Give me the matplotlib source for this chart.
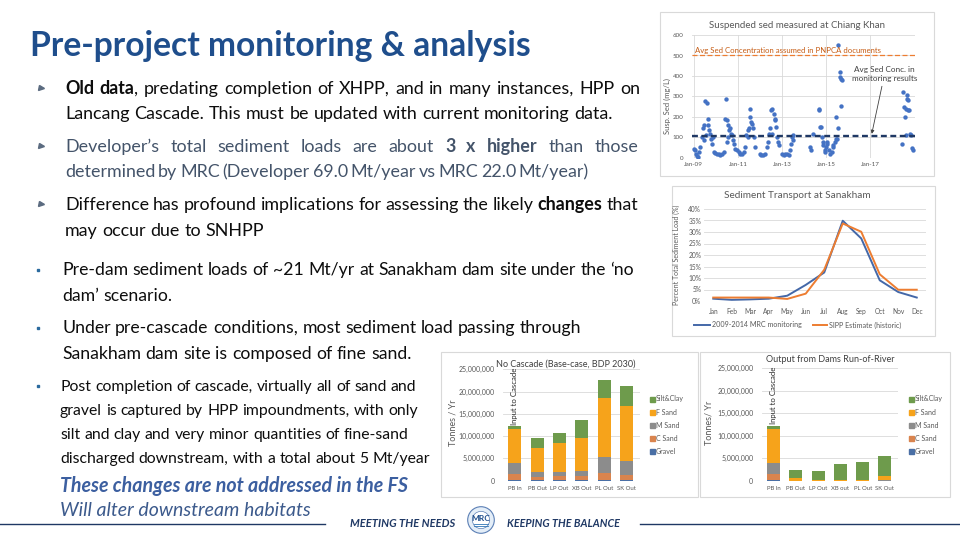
import matplotlib
matplotlib.use('Agg')
import matplotlib.pyplot as plt
from matplotlib.lines import Line2D
from matplotlib.patches import Rectangle, Circle
from matplotlib.ticker import FuncFormatter

W, H = 960, 540
FONT = 'Lato'
plt.rcParams['font.family'] = [FONT, 'DejaVu Sans']

# ---------------- data ----------------
# Suspended sediment at Chiang Khan (decimal year, mg/L)
sed_year = [2009.00, 2009.06, 2009.11, 2009.15, 2009.20, 2009.24, 2009.30,
            2009.39, 2009.44, 2009.48, 2009.51, 2009.59, 2009.63, 2009.66, 2009.71, 2009.75,
            2009.78, 2009.83, 2009.86, 2009.56, 2009.47,
            2009.90, 2009.98, 2010.06, 2010.13, 2010.21, 2010.28, 2010.36,
            2010.42, 2010.46, 2010.51, 2010.57, 2010.61, 2010.66, 2010.69, 2010.73, 2010.55,
            2010.49, 2010.78,
            2010.84, 2010.89, 2010.96, 2011.04, 2011.11, 2011.19, 2011.26, 2011.34,
            2011.38, 2011.44, 2011.49, 2011.53, 2011.56, 2011.59, 2011.64, 2011.68, 2011.71,
            2011.79, 2011.46,
            2011.99, 2012.06, 2012.14, 2012.24, 2012.32,
            2012.35, 2012.39, 2012.47, 2012.51, 2012.56, 2012.62, 2012.67, 2012.70, 2012.74,
            2012.77, 2012.80, 2012.85, 2012.54,
            2013.00, 2013.07, 2013.15, 2013.22, 2013.30, 2013.37, 2013.42, 2013.45, 2013.49,
            2013.52, 2014.28, 2014.31, 2014.40,
            2014.66, 2014.70, 2014.73, 2014.78, 2014.81, 2014.85, 2014.88, 2014.93, 2014.96,
            2015.00, 2015.03, 2015.06, 2015.11, 2015.18, 2015.26, 2015.30, 2015.33, 2015.41,
            2015.46,
            2015.43, 2015.49, 2015.53, 2015.56, 2015.61, 2015.64, 2015.67, 2015.71, 2015.68,
            2018.43, 2018.47, 2018.53, 2018.58, 2018.61, 2018.65, 2018.68, 2018.73, 2018.62,
            2018.69, 2018.77, 2018.80, 2018.83, 2018.88, 2018.95]
sed_conc = [46, 38, 21, 11, 5, 29, 54,
            103, 144, 160, 279, 266, 192, 160, 135, 119,
            95, 70, 103, 111, 86,
            29, 24, 21, 18, 16, 21, 29,
            192, 290, 184, 160, 135, 144, 119, 111, 103,
            78, 86,
            70, 46, 38, 29, 21, 21, 29, 54,
            111, 135, 144, 241, 200, 176, 168, 144, 103,
            54, 103,
            21, 16, 13, 18, 54,
            78, 119, 144, 233, 241, 217, 192, 184, 152,
            103, 78, 62, 119,
            21, 13, 18, 21, 16, 38, 70, 103, 111,
            90, 54, 38, 119,
            233, 241, 152, 152, 103, 78, 62, 38, 29,
            54, 70, 78, 38, 21, 29, 62, 54, 78,
            95,
            200, 95, 144, 551, 421, 396, 385, 380, 254,
            70, 323, 250, 200, 111, 307, 290, 282, 241,
            236, 236, 119, 111, 51, 41]
pnpca_avg = 500
monitor_avg = 108
scatter_xticks = [2009, 2011, 2013, 2015, 2017]
scatter_xlabels = ['Jan-09', 'Jan-11', 'Jan-13', 'Jan-15', 'Jan-17']

# Sediment transport at Sanakham (% of annual load)
months = ['Jan', 'Feb', 'Mar', 'Apr', 'May', 'Jun', 'Jul', 'Aug', 'Sep', 'Oct', 'Nov', 'Dec']
mrc_pct = [1.0, 0.5, 0.7, 1.0, 2.3, 7.0, 12.4, 34.9, 27.2, 9.0, 3.9, 1.5]
sipp_pct = [1.5, 1.5, 1.5, 1.5, 0.9, 3.2, 13.6, 33.7, 30.1, 11.6, 4.9, 4.9]

# Sediment loads (tonnes / yr)
stations_nc = ['PB In', 'PB Out', 'LP Out', 'XB Out', 'PL Out', 'SK Out']
nc_gravel = [50000, 50000, 50000, 50000, 50000, 50000]
nc_csand = [1400000, 850000, 1000000, 1050000, 1600000, 1250000]
nc_msand = [2450000, 1000000, 950000, 1150000, 3750000, 3200000]
nc_fsand = [7600000, 5350000, 6400000, 7400000, 13200000, 12300000]
nc_silt = [700000, 2250000, 2200000, 3950000, 4000000, 4500000]

stations_ror = ['PB In', 'PB Out', 'LP Out', 'XB out', 'PL Out', 'SK Out']
ror_gravel = [50000, 10000, 0, 0, 0, 0]
ror_csand = [1400000, 10000, 0, 0, 0, 0]
ror_msand = [2450000, 20000, 0, 0, 0, 50000]
ror_fsand = [7600000, 600000, 50000, 50000, 50000, 1000000]
ror_silt = [700000, 1750000, 2100000, 3650000, 4100000, 4450000]

fraction_names = ['Silt&Clay', 'F Sand', 'M Sand', 'C Sand', 'Gravel']

# ---------------- styles ----------------
C_GRAVEL, C_CSAND, C_MSAND, C_FSAND, C_SILT = '#4A6FA5', '#D9844E', '#8C8C8C', '#F6A31B', '#6E9B4C'
GRID = '#D9D9D9'
TICK = '#595959'
NAVY = '#1F3864'

fig = plt.figure(figsize=(9.6, 5.4), dpi=100, facecolor='white')
renderer = fig.canvas.get_renderer()


def add_ax(x0, y0, x1, y1):
    return fig.add_axes([x0 / W, 1 - y1 / H, (x1 - x0) / W, (y1 - y0) / H])


def frame(x0, y0, x1, y1):
    fig.add_artist(Rectangle((x0 / W, 1 - y1 / H), (x1 - x0) / W, (y1 - y0) / H,
                             transform=fig.transFigure, fill=False, ec='#D9D9D9', lw=0.8))


def ftext(x, y, s, **kw):
    return fig.text(x / W, 1 - y / H, s, **kw)


def tw(s, size, weight='normal', style='normal'):
    t = fig.text(0, 0, s, fontsize=size, fontweight=weight, fontstyle=style)
    w = t.get_window_extent(renderer=renderer).width
    t.remove()
    return w


def fit_size(s, target, weight='normal', style='normal'):
    return 20.0 * target / tw(s, 20.0, weight, style)


def rich(x0, y, segs, size, color, x1=None):
    tokens = []
    prev_space = True
    for txt, wt, st in segs:
        parts = txt.split(' ')
        for i, p in enumerate(parts):
            if p == '':
                continue
            if i == 0 and tokens and not prev_space:
                tokens[-1].append((p, wt, st))
            else:
                tokens.append([(p, wt, st)])
        prev_space = txt.endswith(' ')
    widths = [[tw(p, size, wt, st) for p, wt, st in tok] for tok in tokens]
    tot = sum(sum(w) for w in widths)
    space = tw('a a', size) - tw('aa', size)
    gap = space if (x1 is None or len(tokens) < 2) else (x1 - x0 - tot) / (len(tokens) - 1)
    x = x0
    for tok, ws in zip(tokens, widths):
        for (p, wt, st), w in zip(tok, ws):
            ftext(x, y, p, fontsize=size, fontweight=wt, fontstyle=st, color=color,
                  ha='left', va='baseline')
            x += w
        x += gap


def style_ax(ax, labelsize):
    for s in ax.spines.values():
        s.set_visible(False)
    ax.tick_params(length=0, labelsize=labelsize, colors=TICK)
    ax.set_facecolor('none')


# ---------------- chart 1: scatter ----------------
frame(660, 12, 934, 176)
ax1 = add_ax(692, 35, 915, 158)
style_ax(ax1, 4.5)
ax1.set_xlim(2008.92, 2019.03)
ax1.set_ylim(0, 600)
ax1.set_yticks(range(0, 601, 100))
ax1.set_xticks(scatter_xticks)
ax1.set_xticklabels(scatter_xlabels)
ax1.grid(True, color=GRID, lw=0.6)
ax1.set_axisbelow(True)
ax1.tick_params(axis='y', pad=6)
ax1.tick_params(axis='x', pad=3)
ax1.scatter(sed_year, sed_conc, s=10, color='#4472C4', linewidths=0, zorder=3)
ax1.axhline(pnpca_avg, color='#ED7D31', lw=0.9, ls=(0, (4, 2)), zorder=2)
ax1.axhline(monitor_avg, color=NAVY, lw=1.7, ls=(0, (2.5, 1.5)), zorder=4)
ax1.text(2009.05, pnpca_avg + 8, 'Avg Sed Concentration assumed in PNPCA documents',
         color='#C55A11', fontsize=5.6, va='bottom', ha='left')
ax1.annotate('Avg Sed Conc. in\nmonitoring results', xy=(2017.07, monitor_avg + 10),
             xytext=(2017.65, 410), ha='center', va='center', fontsize=5.9, color='#404040',
             linespacing=1.4,
             arrowprops=dict(arrowstyle='-|>', color='#404040', lw=0.6, mutation_scale=5,
                             shrinkA=1, shrinkB=0))
ftext(797, 26, 'Suspended sed measured at Chiang Khan', fontsize=7, color=TICK,
      ha='center', va='center')
ftext(667, 106, 'Susp. Sed (mg/L)', fontsize=5.5, color=TICK, rotation=90,
      ha='center', va='center')

# ---------------- chart 2: line ----------------
frame(672, 186, 935, 336)
ax2 = add_ax(704, 209, 926, 301)
style_ax(ax2, 4.8)
x_m = list(range(len(months)))
ax2.set_xlim(-0.5, 11.5)
ax2.set_ylim(0, 40)
ax2.set_yticks(range(0, 41, 5))
ax2.yaxis.set_major_formatter(FuncFormatter(lambda v, p: f'{int(v)}%'))
ax2.set_xticks(x_m)
ax2.set_xticklabels(months)
ax2.grid(True, axis='y', color=GRID, lw=0.6)
ax2.set_axisbelow(True)
ax2.tick_params(axis='y', pad=2)
ax2.tick_params(axis='x', pad=5)
ax2.plot(x_m, mrc_pct, color='#4468A8', lw=1.4, zorder=3)
ax2.plot(x_m, sipp_pct, color='#ED7D31', lw=1.4, zorder=3)
ftext(797, 195, 'Sediment Transport at Sanakham', fontsize=7.2, color=TICK,
      ha='center', va='center')
ftext(676, 255, 'Percent Total Sediment Load (%)', fontsize=5, color=TICK, rotation=90,
      ha='center', va='center')
fig.add_artist(Line2D([694 / W, 710 / W], [1 - 325 / H] * 2, color='#4468A8', lw=1.4,
                      transform=fig.transFigure))
ftext(712, 325, '2009-2014 MRC monitoring', fontsize=5.1, color=TICK, ha='left', va='center')
fig.add_artist(Line2D([813 / W, 827 / W], [1 - 325 / H] * 2, color='#ED7D31', lw=1.4,
                      transform=fig.transFigure))
ftext(829, 325, 'SIPP Estimate (historic)', fontsize=5.1, color=TICK, ha='left', va='center')


# ---------------- bar charts ----------------
def bar_chart(box, axbox, title, title_xy, names, gravel, csand, msand, fsand, silt,
              ylab, ylab_x, leg_x):
    frame(*box)
    ax = add_ax(*axbox)
    style_ax(ax, 5)
    xs = list(range(len(names)))
    bottom = [0] * len(names)
    for vals, col in [(gravel, C_GRAVEL), (csand, C_CSAND), (msand, C_MSAND),
                      (fsand, C_FSAND), (silt, C_SILT)]:
        ax.bar(xs, vals, bottom=bottom, width=0.58, color=col, zorder=3)
        bottom = [b + v for b, v in zip(bottom, vals)]
    ax.set_ylim(0, 25000000)
    ax.set_xlim(-0.53, 5.6)
    ax.set_yticks(range(0, 25000001, 5000000))
    ax.yaxis.set_major_formatter(FuncFormatter(lambda v, p: f'{int(v):,}'))
    ax.set_xticks(xs)
    ax.set_xticklabels(names)
    ax.grid(True, axis='y', color=GRID, lw=0.6)
    ax.set_axisbelow(True)
    ax.tick_params(axis='y', pad=6)
    ax.tick_params(axis='x', pad=4, labelsize=4.3)
    ax.text(0, bottom[0] + 400000, 'Input to Cascade', rotation=90, ha='center', va='bottom',
            fontsize=5.6, color='#262626')
    ftext(title_xy[0], title_xy[1], title, fontsize=6.5, color='#404040',
          ha='center', va='center')
    ftext(ylab_x, 423, ylab, fontsize=6.5, color=TICK, rotation=90, ha='center', va='center')
    cols = [C_SILT, C_FSAND, C_MSAND, C_CSAND, C_GRAVEL]
    for i, (nm, col) in enumerate(zip(fraction_names, cols)):
        yy = 399 + i * 13.2
        fig.add_artist(Rectangle(((leg_x - 2.5) / W, 1 - (yy + 2.5) / H), 5 / W, 5 / H,
                                 transform=fig.transFigure, color=col))
        ftext(leg_x + 4, yy, nm, fontsize=5, color=TICK, ha='left', va='center')


bar_chart((441, 352, 698, 497), (503, 369.3, 640, 480.7), 'No Cascade (Base-case, BDP 2030)',
          (566, 364), stations_nc, nc_gravel, nc_csand, nc_msand, nc_fsand, nc_silt,
          'Tonnes / Yr', 453, 652)
bar_chart((700, 352, 950, 497), (761.7, 368.3, 898.3, 480.7), 'Output from Dams Run-of-River',
          (830, 359), stations_ror, ror_gravel, ror_csand, ror_msand, ror_fsand, ror_silt,
          'Tonnes/ Yr', 709, 911)

# ---------------- slide text ----------------
TXT = '#0D0D0D'
SLATE = '#44546A'
N, B = 'normal', 'bold'
ts = fit_size('Pre-project monitoring & analysis', 500, B)
ftext(30, 56, 'Pre-project monitoring & analysis', fontsize=ts, fontweight=B,
      color='#1F4E8C', ha='left', va='baseline')

sa = fit_size('Lancang Cascade. This must be updated with current monitoring data.', 548)
rich(65, 94, [('Old data', B, N), (', predating completion of XHPP, and in many instances, HPP on', N, N)],
     sa, TXT, x1=640)
rich(65, 119, [('Lancang Cascade. This must be updated with current monitoring data.', N, N)], sa, TXT)
rich(65, 152, [('Developer\u2019s total sediment loads are about ', N, N), ('3 x higher', B, N),
               (' than those', N, N)], sa, SLATE, x1=638)
rich(65, 177, [('determined by MRC (Developer 69.0 Mt/year vs MRC 22.0 Mt/year)', N, N)], sa, SLATE, x1=589)
rich(65, 210, [('Difference has profound implications for assessing the likely ', N, N),
               ('changes', B, N), (' that', N, N)], sa, TXT, x1=638)
rich(65, 236, [('may occur due to SNHPP', N, N)], sa, TXT)
for yb in (88, 146, 204):
    fig.add_artist(Line2D([41 / W], [1 - yb / H], marker='>', ms=3.6, color='#5B6B80',
                          ls='none', transform=fig.transFigure))

sb = fit_size('Under pre-cascade conditions, most sediment load passing through', 520)
rich(62, 275, [('Pre-dam sediment loads of ~21 Mt/yr at Sanakham dam site under the \u2018no', N, N)],
     sb, TXT, x1=634)
rich(62, 301, [('dam\u2019 scenario.', N, N)], sb, TXT)
rich(62, 333, [('Under pre-cascade conditions, most sediment load passing through', N, N)], sb, TXT)
rich(62, 359, [('Sanakham dam site is composed of fine sand.', N, N)], sb, TXT)

sc = fit_size('discharged downstream, with a total about 5 Mt/year', 370)
rich(60, 391, [('Post completion of cascade, virtually all of sand and', N, N)], sc, TXT)
rich(60, 415, [('gravel is captured by HPP impoundments, with only', N, N)], sc, TXT)
rich(60, 439, [('silt and clay and very minor quantities of fine-sand', N, N)], sc, TXT)
rich(60, 463, [('discharged downstream, with a total about 5 Mt/year', N, N)], sc, TXT)
for yb in (270, 328, 386):
    fig.add_artist(Line2D([37.5 / W], [1 - yb / H], marker='s', ms=2.0, color='#2A6A9E',
                          ls='none', transform=fig.transFigure))

sd = fit_size('These changes are not addressed in the FS', 348, B, 'italic')
ftext(60, 492, 'These changes are not addressed in the FS', fontsize=sd, fontweight=B,
      fontstyle='italic', color='#3C5FA0', ha='left', va='baseline')
se = fit_size('Will alter downstream habitats', 250, N, 'italic')
ftext(60, 516, 'Will alter downstream habitats', fontsize=se, fontstyle='italic',
      color='#3C5A8C', ha='left', va='baseline')

# ---------------- footer ----------------
fig.add_artist(Line2D([0, 325 / W], [1 - 524 / H] * 2, color=NAVY, lw=1, transform=fig.transFigure))
fig.add_artist(Line2D([640 / W, 1], [1 - 524 / H] * 2, color=NAVY, lw=1, transform=fig.transFigure))
sf = fit_size('MEETING THE NEEDS', 105, B, 'italic')
ftext(350, 527, 'MEETING THE NEEDS', fontsize=sf, fontweight=B, fontstyle='italic',
      color=NAVY, ha='left', va='baseline')
sg = fit_size('KEEPING THE BALANCE', 113, B, 'italic')
ftext(507, 527, 'KEEPING THE BALANCE', fontsize=sg, fontweight=B, fontstyle='italic',
      color=NAVY, ha='left', va='baseline')
lax = add_ax(467, 506, 495, 534)
lax.set_xlim(-1, 1)
lax.set_ylim(-1, 1)
lax.set_aspect('equal')
lax.axis('off')
lax.add_patch(Circle((0, 0), 0.95, fc='#E4EEF8', ec='#5B7FB5', lw=0.8))
lax.add_patch(Circle((0, 0), 0.62, fc='#FFFFFF', ec='#5B7FB5', lw=0.5))
lax.text(0, 0.08, 'MRC', fontsize=6, fontweight='bold', color='#1F4E8C', ha='center', va='center')
for yy in (-0.3, -0.45):
    lax.plot([-0.5, 0.5], [yy, yy], color='#2E75B6', lw=0.6)

fig.savefig('out.png', dpi=100, facecolor='white')
